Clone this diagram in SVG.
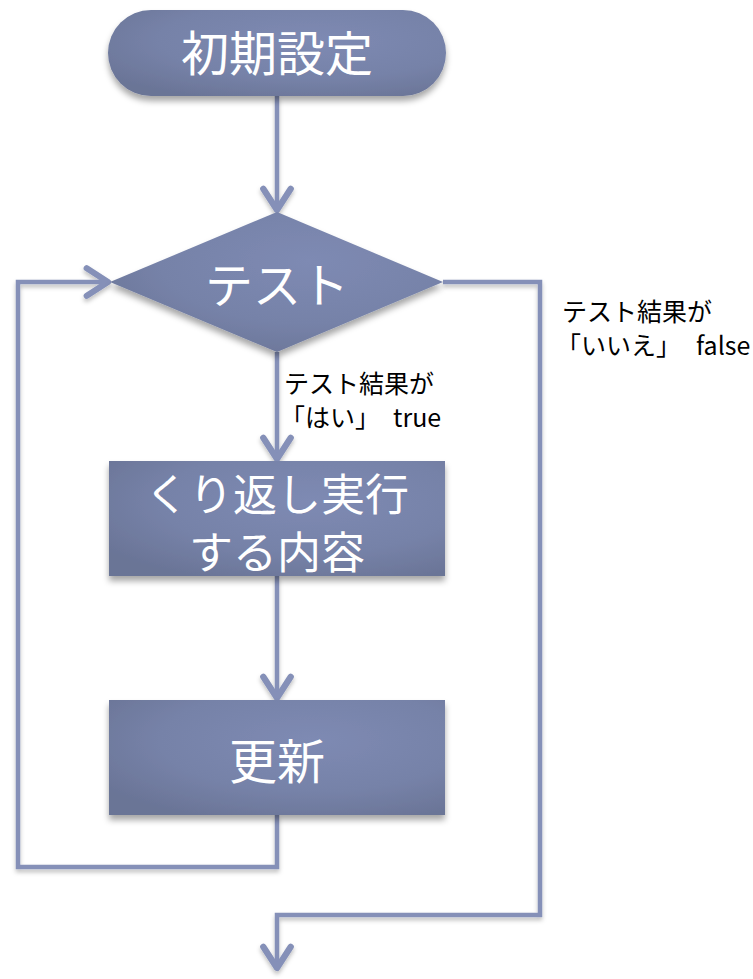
<svg xmlns="http://www.w3.org/2000/svg" width="753" height="979" viewBox="0 0 753 979">
<style>
.node{fill:url(#g);filter:url(#sh);}
.lbl{font-family:"Noto Sans CJK JP","Noto Sans",sans-serif;fill:#ffffff;text-anchor:middle;}
.note{font-family:"Noto Sans CJK JP","Noto Sans",sans-serif;fill:#000000;font-size:25px;}
.ln{fill:none;stroke:#8590b8;stroke-width:4.5;stroke-linejoin:miter;filter:url(#lsh);}
</style>
<defs>
<radialGradient id="g" cx="0.6" cy="0.35" r="0.75">
<stop offset="0" stop-color="#7e8ab3"/>
<stop offset="0.6" stop-color="#7682a8"/>
<stop offset="1" stop-color="#6a7496"/>
</radialGradient>
<filter id="sh" x="-10%" y="-10%" width="120%" height="130%">
<feDropShadow dx="0" dy="5" stdDeviation="3" flood-color="#000" flood-opacity="0.35"/>
</filter>
<filter id="lsh" filterUnits="userSpaceOnUse" x="0" y="0" width="753" height="979">
<feDropShadow dx="0" dy="3" stdDeviation="2" flood-color="#000" flood-opacity="0.25"/>
</filter>
<marker id="arr" markerUnits="userSpaceOnUse" markerWidth="40" markerHeight="40" refX="0" refY="0" viewBox="-22 -16 26 32" orient="auto" overflow="visible">
<path d="M-17,-11 L0,0 L-17,11" fill="none" stroke="#8590b8" stroke-width="5" stroke-linecap="round" stroke-linejoin="round"/>
</marker>
</defs>
<g id="connectors">
<path class="ln" d="M277,96 L277,210" marker-end="url(#arr)"/>
<path class="ln" d="M277,352 L277,459" marker-end="url(#arr)"/>
<path class="ln" d="M277,576 L277,698" marker-end="url(#arr)"/>
<path class="ln" d="M277,815 L277,867 L18,867 L18,282 L108,282" marker-end="url(#arr)"/>
<path class="ln" d="M443,282 L540,282 L540,915 L277,915 L277,968" marker-end="url(#arr)"/>
</g>
<g id="start">
<rect class="node" x="108" y="10" width="338" height="86" rx="43" ry="43"/>
<text class="lbl" x="277" y="71" font-size="48">初期設定</text>
</g>
<g id="test">
<polygon class="node" points="277,212 443,282 277,352 110,282"/>
<text class="lbl" x="277" y="303" font-size="48">テスト</text>
</g>
<g id="body">
<rect class="node" x="109" y="461" width="336" height="115"/>
<text class="lbl" x="277" y="511" font-size="44">くり返し実行</text>
<text class="lbl" x="277" y="569" font-size="44">する内容</text>
</g>
<g id="update">
<rect class="node" x="109" y="700" width="336" height="115"/>
<text class="lbl" x="277" y="779" font-size="48">更新</text>
</g>
<g id="label-true">
<text class="note" x="284" y="393">テスト結果が</text>
<text class="note" x="280" y="427">「はい」<tspan x="393">true</tspan></text>
</g>
<g id="label-false">
<text class="note" x="562" y="321">テスト結果が</text>
<text class="note" x="556" y="355">「いいえ」<tspan x="696">false</tspan></text>
</g>
</svg>
